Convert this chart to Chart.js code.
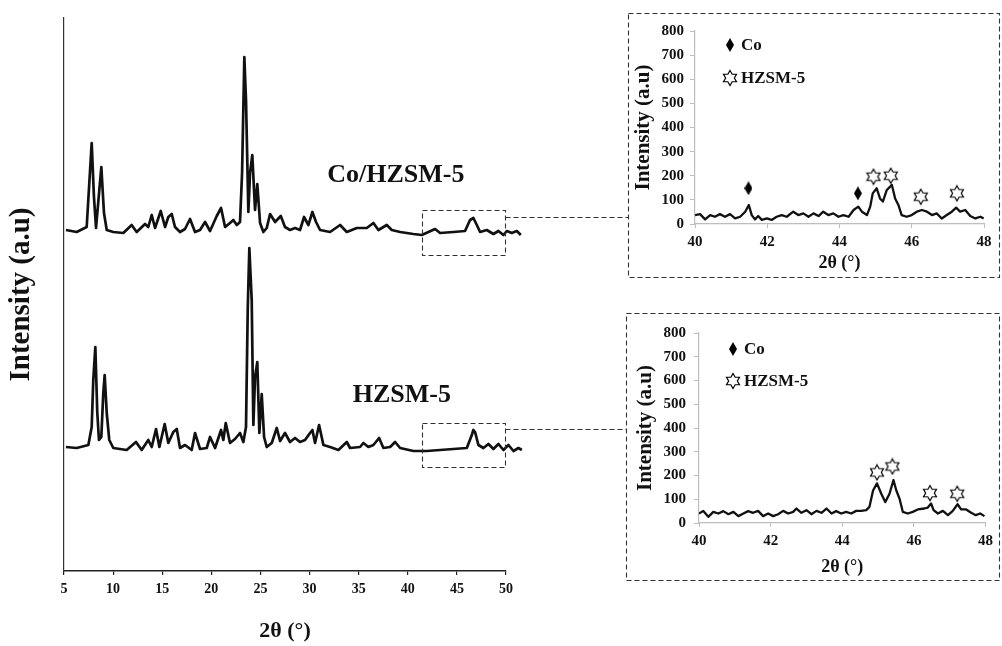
<!DOCTYPE html>
<html>
<head>
<meta charset="utf-8">
<title>XRD Co/HZSM-5</title>
<script src="https://cdn.jsdelivr.net/npm/chart.js@4.4.0/dist/chart.umd.min.js"></script>
<style>
  body { margin: 0; background: #fff; }
  #wrap { position: relative; width: 1002px; height: 646px; overflow: hidden; }
  canvas { position: absolute; }
  #main-chart { left: 0; top: 0; }
  #inset-co { left: 628px; top: 16px; }
  #inset-hzsm { left: 628px; top: 316px; }
</style>
</head>
<body>
<div id="wrap">
  <canvas id="main-chart" width="1002" height="646"></canvas>
  <canvas id="inset-co" width="370" height="258"></canvas>
  <canvas id="inset-hzsm" width="370" height="262"></canvas>
</div>
<script>
// ---- main pattern, stacked intensities (a.u.) ----
var coTheta = [5.20, 6.29, 7.31, 7.82, 8.05, 8.26, 8.80, 9.07, 9.35, 10.02, 11.04, 11.89, 12.40, 13.25, 13.58, 13.93,
  14.27, 14.85, 15.29, 15.62, 15.97, 16.30, 16.81, 17.32, 17.83, 18.34, 18.85, 19.36, 19.87, 20.55, 20.99, 21.40,
  21.90, 22.24, 22.59, 22.92, 23.13, 23.36, 23.53, 23.77, 23.94, 24.17, 24.45, 24.68, 24.96, 25.30, 25.64, 25.98,
  26.49, 27.07, 27.50, 28.01, 28.52, 29.03, 29.44, 29.88, 30.29, 30.66, 31.07, 32.09, 33.11, 33.79, 34.81, 35.83,
  36.50, 37.01, 37.86, 38.37, 39.22, 40.57, 41.43, 42.78, 43.29, 44.64, 45.83, 46.34, 46.68, 47.03, 47.36, 48.04,
  48.72, 49.23, 49.74, 50.08, 50.59, 51.10, 51.51];
var coIntensity = [341, 339, 344, 428, 374, 343, 404, 358, 341, 339, 338, 346, 339, 347, 344, 356,
  343, 360, 344, 354, 357, 344, 339, 342, 352, 339, 341, 349, 340, 355, 363, 344,
  348, 351, 346, 349, 398, 514, 471, 359, 398, 416, 361, 387, 348, 339, 343, 357,
  349, 355, 344, 341, 343, 341, 354, 346, 359, 349, 341, 339, 346, 339, 343, 343,
  348, 341, 346, 341, 339, 337, 336, 342, 338, 339, 340, 351, 353, 346, 339, 341,
  337, 340, 336, 340, 338, 340, 336];

var hzsmTheta = [5.20, 6.29, 7.48, 7.82, 7.98, 8.19, 8.39, 8.56, 8.80, 9.00, 9.14, 9.35, 9.61, 10.02, 11.38, 12.33,
  12.91, 13.58, 13.93, 14.37, 14.71, 15.25, 15.62, 16.13, 16.48, 16.81, 17.32, 18.00, 18.34, 18.85, 19.53, 19.87,
  20.38, 20.99, 21.22, 21.47, 21.90, 22.41, 22.92, 23.26, 23.53, 23.71, 23.87, 24.11, 24.28, 24.45, 24.68, 24.89,
  25.13, 25.37, 25.64, 26.15, 26.66, 27.00, 27.50, 28.01, 28.52, 29.03, 29.54, 30.05, 30.29, 30.56, 30.97, 31.41,
  32.09, 32.94, 33.79, 34.12, 35.14, 35.48, 35.99, 36.50, 37.08, 37.52, 38.20, 38.71, 39.22, 40.57, 41.93, 43.29,
  44.64, 46.01, 46.52, 46.68, 46.85, 47.19, 47.70, 48.21, 48.72, 49.23, 49.74, 50.25, 50.76, 51.27, 51.61];
var hzsmIntensity = [124, 123, 126, 144, 191, 224, 158, 131, 134, 178, 196, 158, 131, 123, 121, 129,
  121, 131, 124, 142, 124, 147, 128, 139, 142, 123, 126, 121, 138, 122, 123, 134,
  123, 141, 131, 148, 128, 132, 138, 129, 144, 264, 323, 271, 146, 194, 209, 138,
  177, 134, 124, 128, 143, 130, 138, 129, 133, 129, 131, 138, 141, 128, 146, 126,
  124, 121, 129, 123, 124, 128, 124, 126, 133, 123, 124, 129, 123, 120, 120, 121,
  122, 123, 136, 141, 139, 126, 123, 127, 122, 127, 121, 126, 120, 123, 121];

var mainTicks = [5, 50, 5];          // min, max, step of 2θ
var sampleLabels = ['Co/HZSM-5', 'HZSM-5'];
var sampleLabelTheta = [38.79, 39.39];
var sampleLabelY = [396, 176];

// ---- zoomed insets 40–48° ----
var inset1Theta = [40.00, 40.14, 40.28, 40.42, 40.55, 40.69, 40.83, 40.97, 41.11, 41.25, 41.39, 41.49, 41.57, 41.66,
  41.75, 41.85, 41.99, 42.12, 42.26, 42.40, 42.54, 42.72, 42.86, 43.00, 43.14, 43.28, 43.42, 43.55, 43.69, 43.83,
  43.97, 44.11, 44.25, 44.39, 44.52, 44.62, 44.76, 44.85, 44.92, 45.03, 45.12, 45.20, 45.31, 45.45, 45.54, 45.63,
  45.72, 45.86, 46.00, 46.14, 46.28, 46.42, 46.56, 46.69, 46.83, 46.97, 47.11, 47.23, 47.34, 47.48, 47.62, 47.76,
  47.90, 47.99];
var inset1Intensity = [37, 41, 19, 37, 30, 41, 30, 41, 23, 30, 51, 79, 37, 19,
  33, 17, 23, 17, 30, 37, 30, 51, 37, 44, 30, 44, 33, 51, 37, 44,
  30, 37, 30, 58, 72, 51, 37, 72, 127, 148, 106, 93, 141, 162, 106, 79,
  37, 30, 37, 51, 58, 51, 37, 44, 23, 37, 51, 68, 51, 58, 33, 23,
  30, 23];
var inset1CoTheta = [41.48, 44.51];
var inset1CoY = [148, 127];
var inset1StarTheta = [44.94, 45.42, 46.25, 47.25];
var inset1StarY = [196, 200, 113, 127];

var inset2Theta = [40.00, 40.12, 40.26, 40.40, 40.54, 40.68, 40.82, 40.96, 41.10, 41.24, 41.37, 41.51, 41.65, 41.79,
  41.93, 42.07, 42.21, 42.35, 42.49, 42.63, 42.72, 42.86, 43.00, 43.14, 43.28, 43.42, 43.56, 43.70, 43.83, 43.97,
  44.11, 44.25, 44.39, 44.53, 44.67, 44.76, 44.86, 44.97, 45.09, 45.20, 45.32, 45.43, 45.51, 45.60, 45.69, 45.83,
  45.97, 46.11, 46.29, 46.39, 46.48, 46.55, 46.67, 46.81, 46.95, 47.08, 47.22, 47.32, 47.46, 47.60, 47.73, 47.85,
  47.97];
var inset2Intensity = [40, 51, 26, 47, 40, 50, 37, 47, 29, 40, 50, 43, 51, 29,
  40, 29, 37, 51, 40, 47, 61, 43, 54, 37, 51, 43, 61, 40, 50, 40,
  47, 40, 51, 51, 54, 68, 137, 167, 123, 88, 123, 181, 137, 102, 47, 40,
  47, 57, 61, 65, 82, 54, 40, 51, 33, 50, 79, 57, 57, 43, 33, 40,
  29];
var inset2StarTheta = [44.97, 45.40, 46.45, 47.21];
var inset2StarY = [213, 238, 126, 123];

var insetTicks = [40, 48, 2, 0, 800, 100];   // x min,max,step / y min,max,step
var legendNames = ['Co', 'HZSM-5'];

var SERIF = '"Liberation Serif", "Times New Roman", serif';
var INK = '#111';

Chart.defaults.font.family = SERIF;
Chart.defaults.color = INK;

function toPoints(xs, ys) {
  return xs.map(function(x, i) { return { x: x, y: ys[i] }; });
}

/**
 * 实心菱形标记 (Co)
 */
function makeDiamond(w, h) {
  var c = document.createElement('canvas');
  c.width = w; c.height = h;
  var g = c.getContext('2d');
  g.fillStyle = '#000';
  g.beginPath();
  g.moveTo(w / 2, 0);
  g.lineTo(w, h / 2);
  g.lineTo(w / 2, h);
  g.lineTo(0, h / 2);
  g.closePath();
  g.fill();
  return c;
}

/**
 * 空心六角星标记 (HZSM-5)
 */
function makeStar(R) {
  var w = Math.ceil(2 * R * Math.cos(Math.PI / 6)) + 3;
  var h = Math.ceil(2 * R) + 3;
  var c = document.createElement('canvas');
  c.width = w; c.height = h;
  var g = c.getContext('2d');
  var r = R / Math.sqrt(3);
  g.beginPath();
  for (var i = 0; i < 12; i++) {
    var a = -Math.PI / 2 + i * Math.PI / 6;
    var rr = i % 2 === 0 ? R : r;
    var px = w / 2 + rr * Math.cos(a), py = h / 2 + rr * Math.sin(a);
    if (i === 0) g.moveTo(px, py); else g.lineTo(px, py);
  }
  g.closePath();
  g.fillStyle = '#fff';
  g.fill();
  g.lineWidth = 1.2;
  g.strokeStyle = '#000';
  g.stroke();
  return c;
}

var diamondImg = makeDiamond(8, 14);
var starImg = makeStar(7.5);

// dashed boxes on the main pattern (in 2θ / intensity units) and the inset frames (px)
var zoomBoxes = [
  { x0: 41.46, x1: 49.91, y0: 316, y1: 361, link: 354, frame: { left: 628, top: 13, right: 999, bottom: 277 } },
  { x0: 41.46, x1: 49.91, y0: 104, y1: 148, link: 142, frame: { left: 626, top: 313, right: 999, bottom: 580 } }
];

var mainDecor = {
  id: 'mainDecor',
  afterDraw: function(chart) {
    var ctx = chart.ctx, xs = chart.scales.x, ys = chart.scales.y;
    ctx.save();
    // sample names
    ctx.fillStyle = INK;
    ctx.font = 'bold 26px ' + SERIF;
    ctx.textAlign = 'center';
    ctx.textBaseline = 'middle';
    sampleLabels.forEach(function(t, i) {
      ctx.fillText(t, xs.getPixelForValue(sampleLabelTheta[i]), ys.getPixelForValue(sampleLabelY[i]));
    });
    // dashed zoom boxes + connectors + inset frames
    ctx.strokeStyle = '#333';
    ctx.lineWidth = 1.1;
    ctx.setLineDash([5, 3]);
    zoomBoxes.forEach(function(b) {
      var l = Math.round(xs.getPixelForValue(b.x0)) + 0.5;
      var r = Math.round(xs.getPixelForValue(b.x1)) + 0.5;
      var t = Math.round(ys.getPixelForValue(b.y1)) + 0.5;
      var btm = Math.round(ys.getPixelForValue(b.y0)) + 0.5;
      var ly = Math.round(ys.getPixelForValue(b.link)) + 0.5;
      ctx.strokeRect(l, t, r - l, btm - t);
      ctx.beginPath();
      ctx.moveTo(r, ly);
      ctx.lineTo(b.frame.left + 0.5, ly);
      ctx.stroke();
      var f = b.frame;
      ctx.strokeRect(f.left + 0.5, f.top + 0.5, f.right - f.left, f.bottom - f.top);
    });
    ctx.restore();
  }
};

new Chart(document.getElementById('main-chart'), {
  type: 'line',
  data: {
    datasets: [{
      label: sampleLabels[0],
      data: toPoints(coTheta, coIntensity),
      borderColor: INK,
      borderWidth: 2.7,
      borderJoinStyle: 'round',
      pointRadius: 0,
      tension: 0,
      clip: false
    }, {
      label: sampleLabels[1],
      data: toPoints(hzsmTheta, hzsmIntensity),
      borderColor: INK,
      borderWidth: 2.7,
      borderJoinStyle: 'round',
      pointRadius: 0,
      tension: 0,
      clip: false
    }]
  },
  options: {
    responsive: false,
    animation: false,
    events: [],
    layout: { padding: { top: 18, right: 496, left: 0, bottom: 0 } },
    plugins: { legend: { display: false }, tooltip: { enabled: false } },
    scales: {
      x: {
        type: 'linear',
        afterDataLimits: function(s) { s.min = mainTicks[0]; s.max = mainTicks[1]; },
        afterFit: function(s) { s.height = 75; },
        ticks: { stepSize: mainTicks[2], color: INK, padding: 6, font: { size: 14, weight: 'bold' } },
        grid: { drawOnChartArea: false, tickLength: 4, color: '#222', lineWidth: 1.2 },
        border: { color: '#222', width: 1.6 },
        title: { display: true, text: '2θ (°)', color: INK, font: { size: 22, weight: 'bold' }, padding: { top: 0, bottom: 1 } }
      },
      y: {
        min: 0,
        max: 553,
        afterFit: function(s) { s.width = 64; },
        ticks: { display: false },
        grid: { display: false },
        border: { color: '#333', width: 1.2 },
        title: { display: true, text: 'Intensity (a.u)', color: INK, font: { size: 29, weight: 'bold' }, padding: { top: 4, bottom: 0 } }
      }
    }
  },
  plugins: [mainDecor]
});

/**
 * 图例 (在绘图区内)
 */
function legendPlugin(dx, dy1, dy2) {
  return {
    id: 'insetLegend',
    afterDraw: function(chart) {
      var ctx = chart.ctx, a = chart.chartArea;
      ctx.save();
      ctx.fillStyle = INK;
      ctx.font = 'bold 17px ' + SERIF;
      ctx.textBaseline = 'middle';
      ctx.textAlign = 'left';
      var x = a.left + dx;
      ctx.drawImage(diamondImg, Math.round(x - diamondImg.width / 2), Math.round(a.top + dy1 - diamondImg.height / 2));
      ctx.fillText(legendNames[0], x + 11, a.top + dy1 + 1);
      ctx.drawImage(starImg, Math.round(x - starImg.width / 2), Math.round(a.top + dy2 - starImg.height / 2));
      ctx.fillText(legendNames[1], x + 11, a.top + dy2 + 1);
      ctx.restore();
    }
  };
}

function renderInset(id, theta, intensity, markers, box) {
  var datasets = [{
    data: toPoints(theta, intensity),
    borderColor: INK,
    borderWidth: 2.3,
    borderJoinStyle: 'round',
    pointRadius: 0,
    tension: 0
  }];
  markers.forEach(function(m) {
    datasets.push({
      data: toPoints(m.x, m.y),
      showLine: false,
      pointStyle: m.img,
      pointRadius: 6
    });
  });
  new Chart(document.getElementById(id), {
    type: 'line',
    data: { datasets: datasets },
    options: {
      responsive: false,
      animation: false,
      events: [],
      layout: { padding: { top: box.top, right: box.right, left: 0, bottom: 0 } },
      plugins: { legend: { display: false }, tooltip: { enabled: false } },
      scales: {
        x: {
          type: 'linear',
          min: insetTicks[0],
          max: insetTicks[1],
          afterFit: function(s) { s.height = box.xh; },
          ticks: { stepSize: insetTicks[2], color: INK, padding: 5, font: { size: 15, weight: 'bold' } },
          grid: { drawOnChartArea: false, tickLength: 4, color: '#bdbdbd' },
          border: { color: '#bdbdbd', width: 1.2 },
          title: { display: true, text: '2θ (°)', color: INK, font: { size: 18, weight: 'bold' }, padding: { top: 0, bottom: 0 } }
        },
        y: {
          min: insetTicks[3],
          max: insetTicks[4],
          afterFit: function(s) { s.width = box.yw; },
          ticks: { stepSize: insetTicks[5], color: INK, padding: box.ypad, font: { size: 15, weight: 'bold' } },
          grid: { drawOnChartArea: false, tickLength: 5, color: '#bdbdbd' },
          border: { color: '#bdbdbd', width: 1.2 },
          title: { display: true, text: 'Intensity (a.u)', color: INK, font: { size: 21, weight: 'bold' }, padding: { top: box.titlePad, bottom: 0 } }
        }
      }
    },
    plugins: [legendPlugin(box.lx, box.ly1, box.ly2)]
  });
}

renderInset('inset-co', inset1Theta, inset1Intensity, [
  { x: inset1CoTheta, y: inset1CoY, img: diamondImg },
  { x: inset1StarTheta, y: inset1StarY, img: starImg }
], { top: 15, right: 14, xh: 50, yw: 67, ypad: 6, titlePad: 3, lx: 35, ly1: 14, ly2: 47 });

renderInset('inset-hzsm', inset2Theta, inset2Intensity, [
  { x: inset2StarTheta, y: inset2StarY, img: starImg }
], { top: 14, right: 12, xh: 55, yw: 71, ypad: 8, titlePad: 5, lx: 34, ly1: 16, ly2: 48 });
</script>
</body>
</html>
